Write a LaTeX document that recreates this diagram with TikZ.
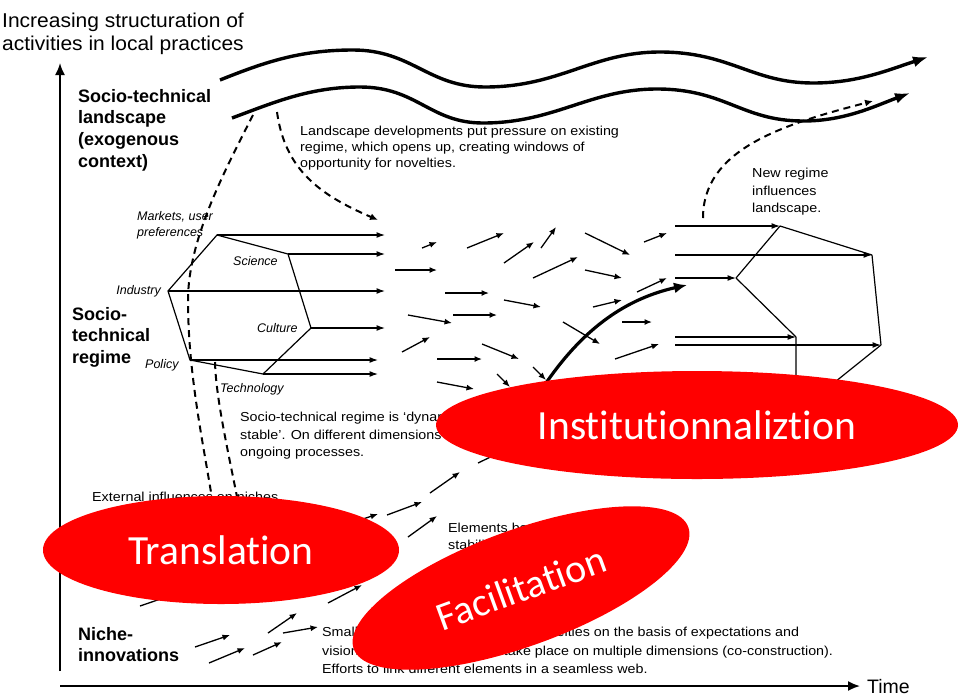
\documentclass[tikz,border=0pt]{standalone}
\usepackage{fontspec}
\setmainfont{Liberation Sans}
\newfontfamily\annot[FakeStretch=1.1]{Liberation Sans}
\newfontfamily\titlef[FakeStretch=1.05]{Liberation Sans}
\newfontfamily\calib[Ligatures=NoCommon]{Carlito}
\usetikzlibrary{arrows.meta,shapes.geometric}
\begin{document}
\begin{tikzpicture}[x=1pt,y=-1pt,
  wave/.style={line width=3.4pt,-{Latex[length=15pt,width=11pt]}},
  dsh/.style={line width=2pt,dash pattern=on 7pt off 5pt},
  dsharr/.style={dsh,-{Latex[length=8pt,width=7pt]}},
  axisarr/.style={line width=1.8pt,-{Latex[length=12pt,width=10pt]}},
  hexline/.style={line width=1.2pt},
  regarr/.style={line width=1.2pt,-{Latex[length=8.5pt,width=6pt]}},
  smallarr/.style={line width=1.3pt,-{Latex[length=7.5pt,width=6pt]}},
  thickarr/.style={line width=3.2pt,-{Latex[length=13pt,width=11pt]}},
  annotxt/.style={anchor=north west,inner sep=0pt,align=left},
  boldlbl/.style={anchor=north west,inner sep=0pt,align=left,font=\bfseries\fontsize{18}{21.7}\selectfont},
  itlbl/.style={inner sep=0pt,font=\itshape\fontsize{12.5}{16}\selectfont},
  redell/.style={ellipse,fill={rgb,255:red,255;green,0;blue,0},draw=none,inner sep=0pt,text=white,font=\calib\fontsize{41.5}{41.5}\selectfont}
]
\useasboundingbox (0,0) rectangle (960,697);

% title and axes
\node[annotxt,font=\titlef\fontsize{20}{23}\selectfont] (title) at (2,12.5) {Increasing structuration of\\activities in local practices};
\coordinate (ay0) at (60,671);
\coordinate (ay1) at (60,63);
\coordinate (ax0) at (60,686);
\coordinate (ax1) at (860,686);
\draw[axisarr] (ay0) -- (ay1);
\draw[axisarr] (ax0) -- (ax1);
\node[anchor=west,inner sep=0pt,font=\fontsize{19.5}{20}\selectfont] (time) at (867,687) {Time};

% landscape waves
\coordinate (w1s) at (220,80);
\coordinate (w1e) at (928,57);
\draw[wave] (w1s) .. controls (265,62) and (300,50) .. (353,50)
  .. controls (412,50) and (428,87) .. (485,87)
  .. controls (560,87) and (592,52) .. (660,52)
  .. controls (730,52) and (752,83) .. (813,83)
  .. controls (858,83) and (888,70) .. (w1e);
\coordinate (w2s) at (232,118);
\coordinate (w2e) at (910,93);
\draw[wave] (w2s) .. controls (275,102) and (310,87) .. (360,87)
  .. controls (417,87) and (430,123) .. (483,123)
  .. controls (555,123) and (590,89) .. (657,89)
  .. controls (725,89) and (742,121) .. (803,121)
  .. controls (845,121) and (875,106) .. (w2e);

% labels
\node[boldlbl] (lland) at (78,89) {Socio-technical\\landscape\\(exogenous\\context)};
\node[boldlbl] (lreg) at (72,307) {Socio-\\technical\\regime};
\node[boldlbl] (lniche) at (78,627) {Niche-\\innovations};

\node[annotxt,font=\annot\fontsize{13}{15.7}\selectfont] (tland) at (300,126) {Landscape developments put pressure on existing\\regime, which opens up, creating windows of\\opportunity for novelties.};
\node[annotxt,font=\annot\fontsize{13}{17.5}\selectfont] (tnew) at (752,168) {New regime\\influences\\landscape.};
\node[annotxt,font=\annot\fontsize{13}{17.5}\selectfont] (treg) at (240,412) {Socio-technical regime is ‘dynamically\\stable’. On different dimensions there are\\ongoing processes.};
\node[annotxt,font=\annot\fontsize{13}{17}\selectfont] (text) at (92,492) {External influences on niches};
\node[annotxt,font=\annot\fontsize{13}{17}\selectfont] (telem) at (448,523) {Elements become aligned, and\\stabilise in a dominant design.\\Internal momentum increases.};
\node[annotxt,font=\annot\fontsize{13}{18.5}\selectfont] (tniche) at (322,627) {Small networks of actors support novelties on the basis of expectations and\\visions. Learning processes take place on multiple dimensions (co-construction).\\Efforts to link different elements in a seamless web.};

% dashed lines
\coordinate (dA1) at (253,115);
\coordinate (dA2) at (214,512);
\draw[dsh] (dA1) .. controls (225,170) and (188,240) .. (188,300) .. controls (188,380) and (206,455) .. (dA2);
\coordinate (dB1) at (215,362);
\coordinate (dB2) at (240,512);
\draw[dsh] (dB1) .. controls (216,400) and (229,455) .. (dB2);
\coordinate (dC1) at (277,112);
\coordinate (dC2) at (378,220);
\draw[dsharr] (dC1) .. controls (285,170) and (320,195) .. (dC2);
\coordinate (dD1) at (703,218);
\coordinate (dD2) at (873,101);
\draw[dsharr] (dD1) .. controls (703,150) and (780,125) .. (dD2);

% left regime hexagon
\coordinate (hM) at (217,235);
\coordinate (hS) at (288,254);
\coordinate (hC) at (311,328);
\coordinate (hT) at (263,374);
\coordinate (hP) at (190,360);
\coordinate (hI) at (168,291);
\draw[hexline] (hM) -- (hS) -- (hC) -- (hT) -- (hP) -- (hI) -- cycle;
\coordinate (eM) at (385,235);
\coordinate (eS) at (385,254);
\coordinate (eI) at (385,291);
\coordinate (eC) at (385,328);
\coordinate (eP) at (378,360);
\coordinate (eT) at (378,374);
\draw[regarr] (hM) -- (eM);
\draw[regarr] (hS) -- (eS);
\draw[regarr] (hI) -- (eI);
\draw[regarr] (hC) -- (eC);
\draw[regarr] (hP) -- (eP);
\draw[regarr] (hT) -- (eT);

\node[itlbl,anchor=north west,align=left] (lmark) at (137,211) {Markets, user\\preferences};
\node[itlbl,anchor=west] (lsci) at (233,261) {Science};
\node[itlbl,anchor=east] (lind) at (161,291) {Industry};
\node[itlbl,anchor=west] (lcul) at (257,328) {Culture};
\node[itlbl,anchor=west] (lpol) at (145,365) {Policy};
\node[itlbl,anchor=west] (ltec) at (220,389) {Technology};

% right regime structure
\coordinate (rA) at (780,226);
\coordinate (rB) at (872,255);
\coordinate (rC) at (736,278);
\coordinate (rD) at (796,337);
\coordinate (rE) at (881,345);
\coordinate (rF) at (815,398);
\coordinate (rG) at (796,400);
\coordinate (sA) at (675,226);
\coordinate (sB) at (675,255);
\coordinate (sC) at (675,278);
\coordinate (sD) at (675,337);
\coordinate (sE) at (675,345);
\draw[regarr] (sA) -- (rA);
\draw[regarr] (sB) -- (rB);
\draw[regarr] (sC) -- (rC);
\draw[regarr] (sD) -- (rD);
\draw[regarr] (sE) -- (rE);
\draw[hexline] (rA) -- (rB) (rA) -- (rC) (rC) -- (rD) (rB) -- (rE) (rE) -- (rF) (rD) -- (rG);

% small arrows (regime and niches)
\foreach \xa/\ya/\xb/\yb in {
  422/248/437/242, 467/248/504/233, 504/263/534/242, 541/248/556/227,
  585/233/630/255, 644/242/667/233, 395/270/437/270, 533/278/578/257,
  585/270/622/278, 445/293/489/293, 504/300/541/307, 637/292/667/278,
  408/315/452/323, 453/315/497/315, 593/307/622/300, 622/322/652/322,
  563/322/600/344, 402/352/430/337, 437/359/482/359, 482/344/519/359,
  615/359/659/344, 437/382/474/389, 497/374/510/387, 533/367/546/380,
  195/647/230/635, 209/663/245/648, 253/655/282/642, 268/633/297/613,
  283/633/318/627, 328/603/362/585, 387/515/422/502, 408/537/437/516,
  430/493/460/472, 478/463/505/450, 345/525/378/514, 140/606/178/593}
  \draw[smallarr] (\xa,\ya) -- (\xb,\yb);

% thick arrow
\coordinate (tk1) at (540,392);
\coordinate (tk2) at (687,285);
\draw[thickarr] (tk1) .. controls (577,335) and (620,300) .. (tk2);

% red ellipses
\node[redell,minimum width=356pt,minimum height=108pt] (trans) at (221,550) {Translation};
\node[redell,minimum width=522pt,minimum height=108pt] (inst) at (697,425) {Institutionnaliztion};
\node[redell,minimum width=356pt,minimum height=116pt,rotate=20,font=\calib\fontsize{40}{40}\selectfont] (facil) at (521,588) {Facilitation};
\end{tikzpicture}
\end{document}
